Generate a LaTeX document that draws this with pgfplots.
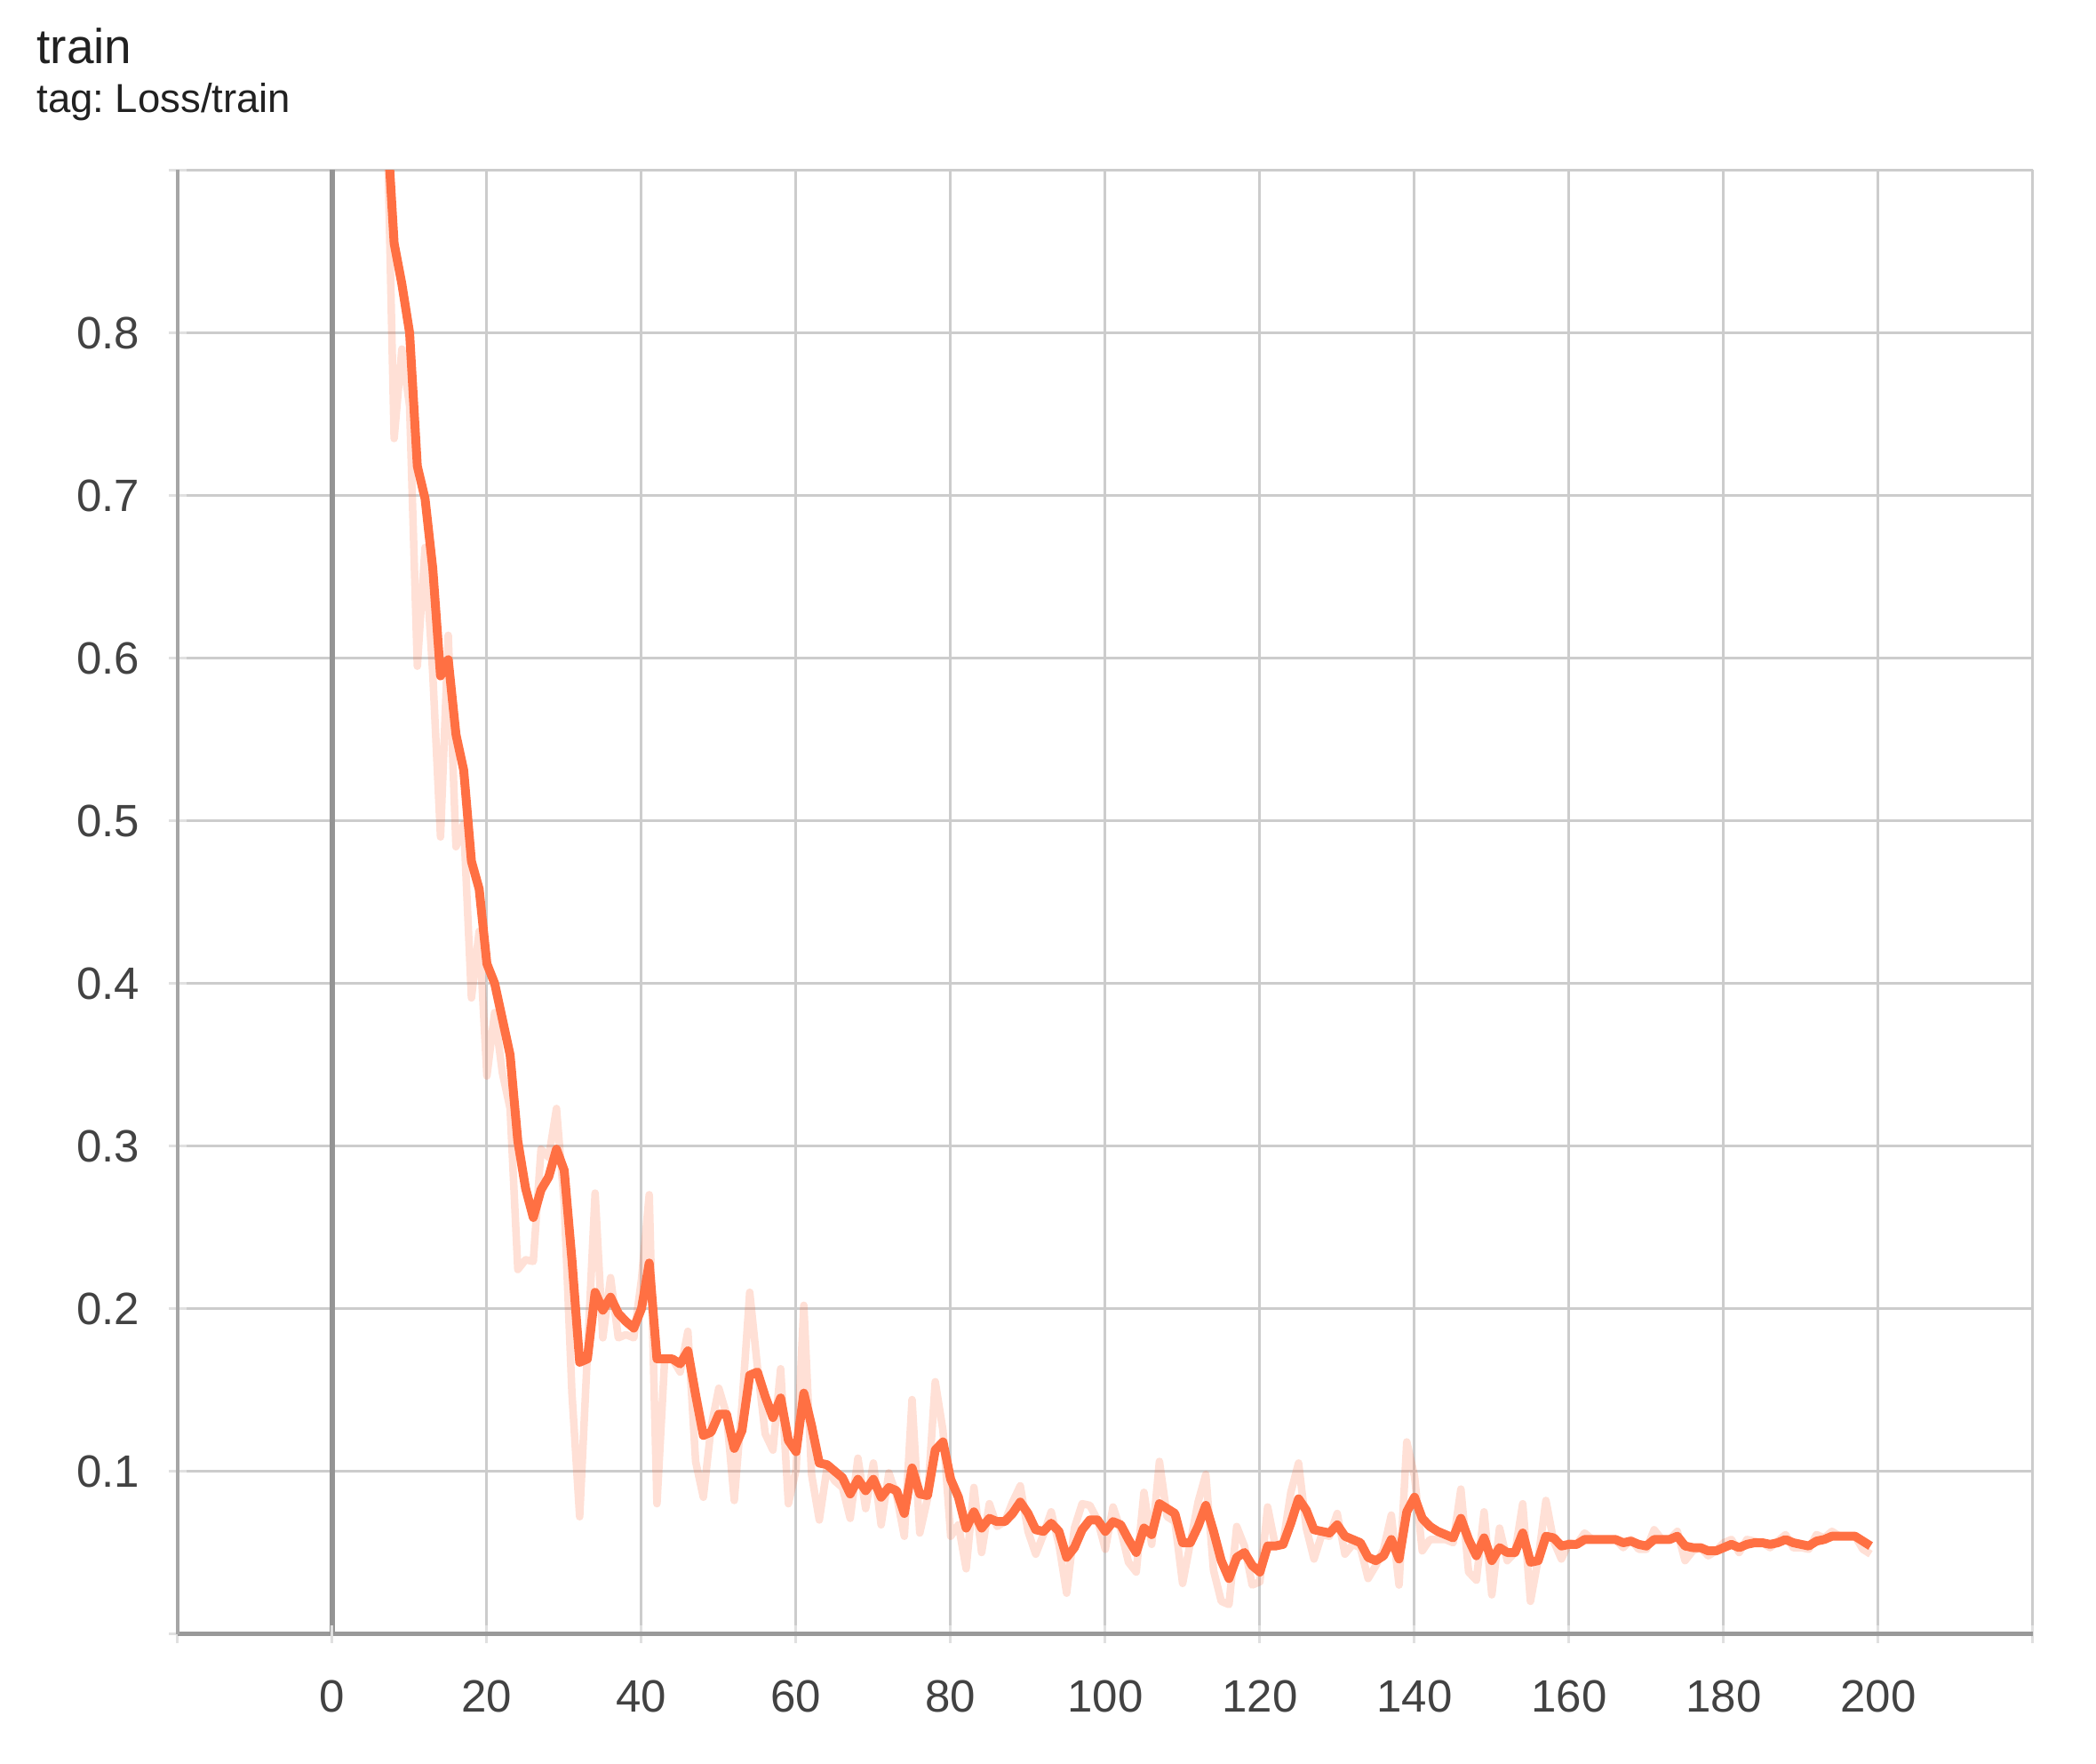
\documentclass[border=0pt]{standalone}
\usepackage{pgfplots}
\pgfplotsset{compat=1.18}
\usepackage{pgfplotstable}
\usepackage{fontspec}
\setmainfont{Liberation Sans}
\frenchspacing
\definecolor{tbor}{HTML}{FF7043}
\definecolor{txt}{HTML}{212121}
\definecolor{tick}{HTML}{424242}

\pgfplotstableread{
x y
0 2.0
1 1.8
2 1.6
3 1.45
4 1.3
5 1.18
6 1.07
7 0.935
8 0.855
9 0.830
10 0.800
11 0.718
12 0.698
13 0.655
14 0.589
15 0.599
16 0.553
17 0.531
18 0.475
19 0.458
20 0.412
21 0.400
22 0.378
23 0.356
24 0.303
25 0.274
26 0.256
27 0.273
28 0.281
29 0.298
30 0.285
31 0.230
32 0.167
33 0.169
34 0.210
35 0.199
36 0.207
37 0.197
38 0.192
39 0.188
40 0.200
41 0.228
42 0.169
43 0.169
44 0.169
45 0.166
46 0.174
47 0.147
48 0.122
49 0.124
50 0.135
51 0.135
52 0.114
53 0.125
54 0.159
55 0.161
56 0.146
57 0.133
58 0.145
59 0.119
60 0.112
61 0.148
62 0.128
63 0.105
64 0.104
65 0.100
66 0.096
67 0.086
68 0.095
69 0.088
70 0.095
71 0.084
72 0.090
73 0.088
74 0.074
75 0.102
76 0.086
77 0.085
78 0.113
79 0.118
80 0.095
81 0.084
82 0.065
83 0.075
84 0.065
85 0.071
86 0.069
87 0.069
88 0.074
89 0.081
90 0.074
91 0.064
92 0.063
93 0.068
94 0.063
95 0.047
96 0.053
97 0.064
98 0.070
99 0.070
100 0.063
101 0.069
102 0.067
103 0.058
104 0.050
105 0.065
106 0.061
107 0.080
108 0.077
109 0.074
110 0.056
111 0.056
112 0.066
113 0.079
114 0.063
115 0.045
116 0.034
117 0.047
118 0.050
119 0.042
120 0.038
121 0.054
122 0.054
123 0.055
124 0.068
125 0.083
126 0.076
127 0.064
128 0.063
129 0.062
130 0.067
131 0.060
132 0.058
133 0.056
134 0.047
135 0.045
136 0.048
137 0.058
138 0.046
139 0.075
140 0.084
141 0.071
142 0.066
143 0.063
144 0.061
145 0.059
146 0.071
147 0.058
148 0.048
149 0.059
150 0.045
151 0.053
152 0.050
153 0.050
154 0.062
155 0.044
156 0.045
157 0.060
158 0.059
159 0.054
160 0.055
161 0.055
162 0.058
163 0.058
164 0.058
165 0.058
166 0.058
167 0.056
168 0.057
169 0.055
170 0.054
171 0.058
172 0.058
173 0.058
174 0.060
175 0.054
176 0.053
177 0.053
178 0.051
179 0.051
180 0.053
181 0.055
182 0.053
183 0.055
184 0.056
185 0.056
186 0.055
187 0.056
188 0.058
189 0.056
190 0.055
191 0.054
192 0.057
193 0.058
194 0.060
195 0.060
196 0.060
197 0.060
198 0.057
199 0.054
}\smoothed

\pgfplotstableread{
x y
0 1.9
1 1.7
2 1.5
3 1.35
4 1.2
5 1.1
6 1.0
7 0.95
8 0.735
9 0.790
10 0.755
11 0.595
12 0.668
13 0.590
14 0.490
15 0.614
16 0.484
17 0.498
18 0.391
19 0.432
20 0.343
21 0.382
22 0.345
23 0.323
24 0.224
25 0.230
26 0.229
27 0.298
28 0.293
29 0.323
30 0.265
31 0.148
32 0.072
33 0.172
34 0.271
35 0.182
36 0.219
37 0.182
38 0.184
39 0.182
40 0.218
41 0.270
42 0.080
43 0.169
44 0.169
45 0.161
46 0.186
47 0.106
48 0.084
49 0.127
50 0.151
51 0.135
52 0.082
53 0.141
54 0.210
55 0.164
56 0.123
57 0.113
58 0.163
59 0.080
60 0.101
61 0.202
62 0.098
63 0.070
64 0.102
65 0.094
66 0.090
67 0.071
68 0.108
69 0.077
70 0.105
71 0.067
72 0.099
73 0.085
74 0.060
75 0.144
76 0.062
77 0.083
78 0.155
79 0.125
80 0.060
81 0.067
82 0.040
83 0.090
84 0.050
85 0.080
86 0.066
87 0.069
88 0.081
89 0.091
90 0.063
91 0.049
92 0.061
93 0.075
94 0.055
95 0.025
96 0.065
97 0.080
98 0.079
99 0.070
100 0.052
101 0.078
102 0.064
103 0.044
104 0.038
105 0.087
106 0.055
107 0.106
108 0.072
109 0.069
110 0.031
111 0.056
112 0.081
113 0.098
114 0.039
115 0.020
116 0.018
117 0.066
118 0.054
119 0.030
120 0.032
121 0.078
122 0.054
123 0.056
124 0.087
125 0.105
126 0.065
127 0.046
128 0.061
129 0.060
130 0.074
131 0.049
132 0.055
133 0.053
134 0.034
135 0.042
136 0.052
137 0.073
138 0.030
139 0.118
140 0.097
141 0.051
142 0.058
143 0.058
144 0.058
145 0.056
146 0.089
147 0.038
148 0.033
149 0.075
150 0.024
151 0.065
152 0.045
153 0.050
154 0.080
155 0.020
156 0.046
157 0.082
158 0.057
159 0.046
160 0.056
161 0.055
162 0.062
163 0.058
164 0.058
165 0.058
166 0.058
167 0.053
168 0.058
169 0.052
170 0.052
171 0.064
172 0.058
173 0.058
174 0.063
175 0.045
176 0.051
177 0.053
178 0.048
179 0.051
180 0.056
181 0.058
182 0.050
183 0.058
184 0.057
185 0.056
186 0.053
187 0.057
188 0.061
189 0.053
190 0.053
191 0.052
192 0.061
193 0.059
194 0.063
195 0.060
196 0.060
197 0.060
198 0.052
199 0.049
}\raw

\begin{document}
\begin{tikzpicture}
\path[use as bounding box] (0,0) rectangle (471.8pt,396.8pt);
\begin{axis}[
  at={(40pt,29.1pt)}, anchor=south west,
  scale only axis, width=417.6pt, height=329.4pt,
  xmin=-20, xmax=220, ymin=0, ymax=0.9,
  xtick={-20,20,40,60,80,100,120,140,160,180,200,220},
  xticklabels={{},20,40,60,80,100,120,140,160,180,200,{}},
  ytick={0,0.1,0.2,0.3,0.4,0.5,0.6,0.7,0.8,0.9},
  yticklabels={{},0.1,0.2,0.3,0.4,0.5,0.6,0.7,0.8,{}},
  /pgf/number format/assume math mode=true,
  ticklabel style={font=\fontsize{10.2}{12}\selectfont, text=tick},
  xticklabel style={yshift=-5pt},
  yticklabel style={xshift=-3pt},
  tick align=outside,
  major tick length=4pt,
  tick style={draw=black!12, line width=0.6pt},
  grid=major,
  major grid style={draw=black!20, line width=0.6pt},
  axis lines=left,
  axis line style={-, draw=black!35, line width=0.8pt},
  x axis line style={draw=black!40, line width=1pt},
  extra x ticks={0},
  extra x tick labels={0},
  extra x tick style={major grid style={draw=black!42, line width=1.3pt}, tick style={draw=black!12, line width=0.6pt}},
  clip=true,
]
\addplot[tbor, opacity=0.22, line width=1.7pt, line join=round] table[x=x,y=y] {\raw};
\addplot[tbor, line width=2pt, line join=round] table[x=x,y=y] {\smoothed};
\end{axis}
\node[anchor=base west, inner sep=0, text=txt, font=\fontsize{11}{13}\selectfont] at (8.1pt,382.4pt) {train};
\node[anchor=base west, inner sep=0, text=txt, font=\fontsize{9.1}{11}\selectfont] at (8.1pt,371.4pt) {tag: Loss/train};
\end{tikzpicture}
\end{document}
